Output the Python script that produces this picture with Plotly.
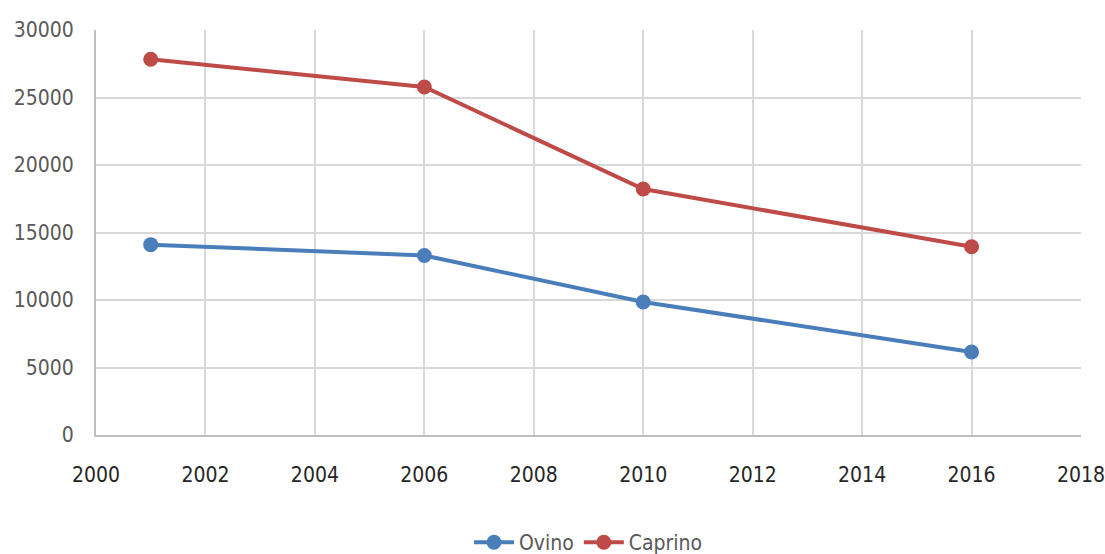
import plotly.graph_objects as go

# Census years and head counts per species
years = [2001, 2006, 2010, 2016]
ovino = [14100, 13300, 9850, 6150]
caprino = [27830, 25780, 18220, 13950]

x_ticks = list(range(2000, 2019, 2))
y_ticks = list(range(0, 30001, 5000))

FONT = "DejaVu Sans Condensed"
SIZE = 21

fig = go.Figure()
fig.add_trace(go.Scatter(
    x=years, y=ovino, name="Ovino", mode="lines+markers",
    line=dict(color="#4a7ebb", width=4),
    marker=dict(size=15, color="#4a7ebb"),
))
fig.add_trace(go.Scatter(
    x=years, y=caprino, name="Caprino", mode="lines+markers",
    line=dict(color="#be4b48", width=4),
    marker=dict(size=15, color="#be4b48"),
))

fig.update_layout(
    width=1105, height=554,
    margin=dict(l=96, r=24, t=30, b=119, autoexpand=False),
    paper_bgcolor="white", plot_bgcolor="white",
    font=dict(family=FONT, size=SIZE, color="#595959"),
    showlegend=True,
    legend=dict(orientation="h", x=0.5, xanchor="center", y=-0.215, yanchor="top",
                font=dict(family=FONT, size=SIZE, color="#595959"),
                itemwidth=40),
    xaxis=dict(
        range=[2000, 2018], tickmode="array", tickvals=x_ticks,
        ticktext=[str(v) for v in x_ticks],
        showgrid=True, gridcolor="#d9d9d9", gridwidth=2,
        showline=True, linecolor="#bfbfbf", linewidth=2,
        zeroline=False, ticks="", ticklen=0,
        tickfont=dict(family=FONT, size=SIZE, color="#262626"),
        ticklabeloverflow="allow", ticklabelstandoff=20,
    ),
    yaxis=dict(
        range=[0, 30000], tickmode="array", tickvals=y_ticks,
        ticktext=[str(v) for v in y_ticks],
        showgrid=True, gridcolor="#d9d9d9", gridwidth=2,
        showline=True, linecolor="#bfbfbf", linewidth=2,
        zeroline=False, ticks="", ticklen=0,
        tickfont=dict(family=FONT, size=SIZE, color="#595959"),
        ticklabelstandoff=16,
    ),
)

fig.write_html("out.html")
